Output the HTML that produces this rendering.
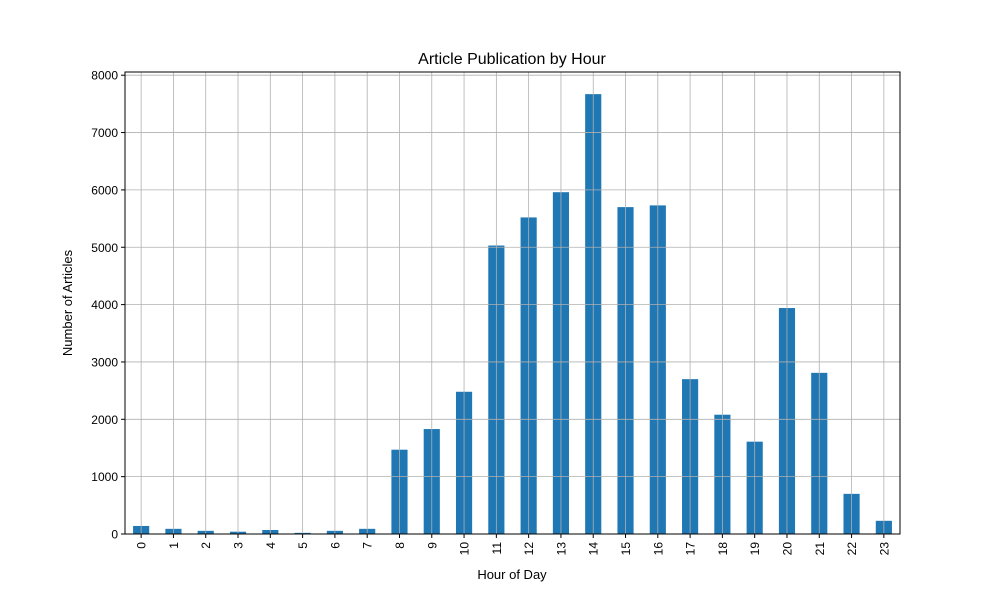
<!DOCTYPE html>
<html><head><meta charset="utf-8"><style>
body{margin:0;background:#fff;}
svg{display:block;font-family:"Liberation Sans","DejaVu Sans",sans-serif;}
</style></head><body>
<svg id="chart" width="1000" height="600">
<rect width="1000" height="600" fill="#fff"/>
<text x="512" y="64" font-size="16" text-anchor="middle">Article Publication by Hour</text>
<text x="512" y="579" font-size="13" text-anchor="middle">Hour of Day</text>
<text transform="translate(72,303) rotate(-90)" font-size="13" text-anchor="middle">Number of Articles</text>
<g id="bars"></g><g id="grid"></g><g id="ticks"></g>
<rect x="125" y="72" width="775" height="462" fill="none" stroke="#000" stroke-width="1"/>
</svg>
<script>
const categories=["0","1","2","3","4","5","6","7","8","9","10","11","12","13","14","15","16","17","18","19","20","21","22","23"];
const values=[140,90,55,40,70,20,55,90,1470,1830,2480,5030,5520,5960,7670,5700,5730,2700,2080,1610,3940,2810,700,230];
const yTicks=[0,1000,2000,3000,4000,5000,6000,7000,8000];
const L=125,R=900,T=72,B=534,yMax=8056;
const ns="http://www.w3.org/2000/svg";
const step=(R-L)/categories.length;
const xc=i=>L+step*(i+0.5);
const y=v=>B-(v/yMax)*(B-T);
function mk(t,a,p){const e=document.createElementNS(ns,t);for(const k in a)e.setAttribute(k,a[k]);p.appendChild(e);return e;}
const bars=document.getElementById('bars'),grid=document.getElementById('grid'),ticks=document.getElementById('ticks');
values.forEach((v,i)=>{
 const r=mk('rect',{x:xc(i)-step/4,y:y(v),width:step/2,height:B-y(v),fill:'#1f77b4'},bars);
 
 
 const g=mk('line',{x1:xc(i),x2:xc(i),y1:T,y2:B,stroke:'#b0b0b0','stroke-width':0.8},grid);
 
 
 mk('line',{x1:xc(i),x2:xc(i),y1:B,y2:B+4,stroke:'#000'},ticks);
 const t=mk('text',{transform:`translate(${xc(i)+4.5},${B+8}) rotate(-90)`,'font-size':12,'text-anchor':'end'},ticks);
 t.textContent=categories[i];
 
 
});
yTicks.forEach(v=>{
 const g=mk('line',{x1:L,x2:R,y1:y(v),y2:y(v),stroke:'#b0b0b0','stroke-width':0.8},grid);
 
 
 mk('line',{x1:L-4,x2:L,y1:y(v),y2:y(v),stroke:'#000'},ticks);
 const t=mk('text',{x:L-7,y:y(v)+4.5,'font-size':12,'text-anchor':'end'},ticks);
 t.textContent=v;
 
 
});
</script>
</body></html>
